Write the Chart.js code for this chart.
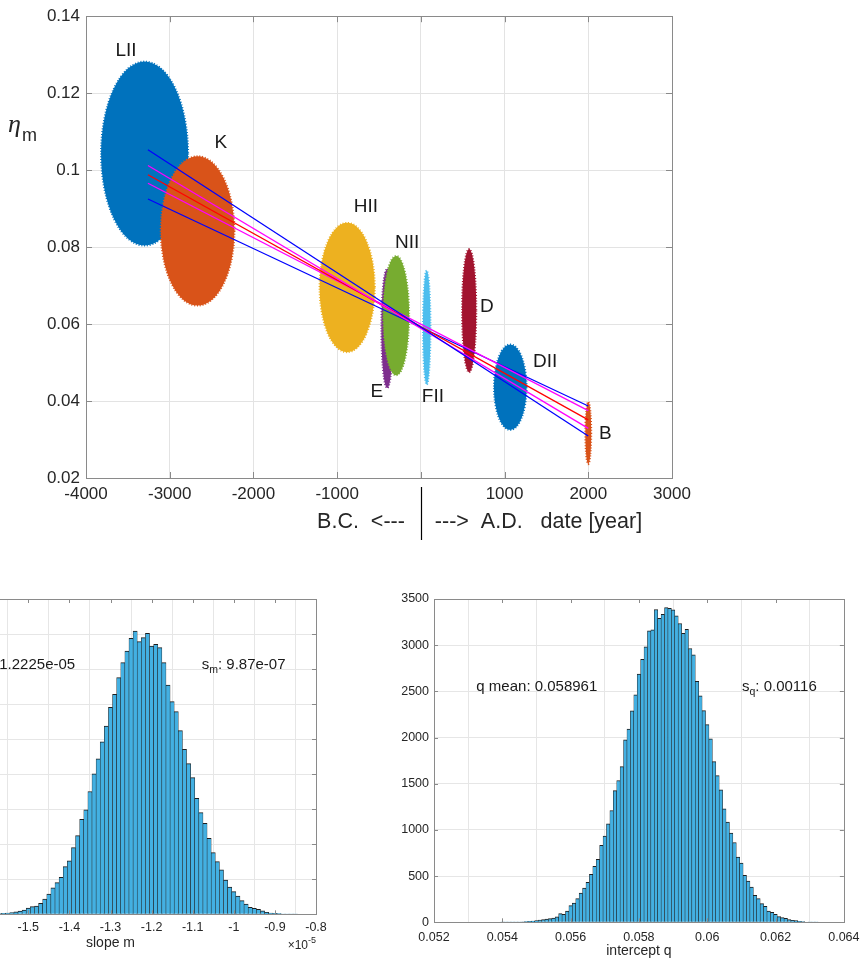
<!DOCTYPE html>
<html>
<head>
<meta charset="utf-8">
<script src="https://cdn.jsdelivr.net/npm/chart.js@4.4.1/dist/chart.umd.min.js"></script>
<style>
  html, body { margin: 0; padding: 0; background: #fff; width: 867px; height: 961px; overflow: hidden; position: relative; }
  canvas { position: absolute; }
  #top { left: 0; top: 0; }
  #histM { left: -160px; top: 560px; }
  #histQ { left: 360px; top: 560px; }
</style>
</head>
<body>
<canvas id="top" width="867" height="550"></canvas>
<canvas id="histM" width="500" height="400"></canvas>
<canvas id="histQ" width="507" height="400"></canvas>
<script>
// --- top plot: sample groups (centre and spread of each cloud) ---
const groupNames = ["LII", "K", "HII", "E", "NII", "FII", "D", "DII", "B"];
const groupDate = [-3300, -2667, -880, -402, -295, 70, 577, 1068, 2000];
const groupEta = [0.1043, 0.0842, 0.0695, 0.0589, 0.0622, 0.0591, 0.0635, 0.0436, 0.0317];
const groupDateSpread = [520, 440, 330, 70, 155, 45, 85, 195, 35];
const groupEtaSpread = [0.0239, 0.0194, 0.0168, 0.0155, 0.0155, 0.0148, 0.0160, 0.0111, 0.0081];
const labelDate = [-3522, -2390, -657, -526, -163, 144, 789, 1486, 2203];
const labelEta = [0.1309, 0.1070, 0.0906, 0.0424, 0.0812, 0.0411, 0.0644, 0.0502, 0.0315];
const groupColors = ["#0072BD", "#D95319", "#EDB120", "#7E2F8E", "#77AC30", "#4DBEEE", "#A2142F", "#0072BD", "#D95319"];

// regression lines (value at first and last date)
const fitDates = [-3260, 2000];
const fitSteep2 = [0.1053, 0.0309];
const fitSteep1 = [0.1012, 0.0329];
const fitMean = [0.0988, 0.0351];
const fitFlat1 = [0.0966, 0.0375];
const fitFlat2 = [0.0925, 0.0387];

const dateTicks = [-4000, -3000, -2000, -1000, 0, 1000, 2000, 3000];

// --- histogram of slope m (x in units of 1e-5) ---
const slopeBins = [-1.60, -1.59, -1.58, -1.57, -1.56, -1.55, -1.54, -1.53, -1.52, -1.51,
  -1.50, -1.49, -1.48, -1.47, -1.46, -1.45, -1.44, -1.43, -1.42, -1.41,
  -1.40, -1.39, -1.38, -1.37, -1.36, -1.35, -1.34, -1.33, -1.32, -1.31,
  -1.30, -1.29, -1.28, -1.27, -1.26, -1.25, -1.24, -1.23, -1.22, -1.21,
  -1.20, -1.19, -1.18, -1.17, -1.16, -1.15, -1.14, -1.13, -1.12, -1.11,
  -1.10, -1.09, -1.08, -1.07, -1.06, -1.05, -1.04, -1.03, -1.02, -1.01,
  -1.00, -0.99, -0.98, -0.97, -0.96, -0.95, -0.94, -0.93, -0.92, -0.91,
  -0.90, -0.89, -0.88, -0.87, -0.86, -0.85];
const slopeCounts = [3, 4, 6, 9, 13, 19, 26, 35, 45, 60,
  88, 110, 119, 157, 219, 290, 376, 452, 528, 680,
  762, 952, 1123, 1357, 1490, 1752, 2004, 2218, 2460, 2688,
  2954, 3140, 3378, 3592, 3758, 3939, 4043, 3891, 3948, 4010,
  3829, 3853, 3806, 3592, 3273, 3035, 2892, 2621, 2355, 2150,
  1950, 1655, 1450, 1300, 1085, 880, 752, 633, 490, 390,
  323, 261, 195, 147, 100, 86, 71, 48, 29, 19,
  14, 10, 5, 3, 2, 1];

// --- histogram of intercept q ---
const interceptBins = [0.0540, 0.0541, 0.0542, 0.0543, 0.0544, 0.0545, 0.0546, 0.0547, 0.0548, 0.0549,
  0.0550, 0.0551, 0.0552, 0.0553, 0.0554, 0.0555, 0.0556, 0.0557, 0.0558, 0.0559,
  0.0560, 0.0561, 0.0562, 0.0563, 0.0564, 0.0565, 0.0566, 0.0567, 0.0568, 0.0569,
  0.0570, 0.0571, 0.0572, 0.0573, 0.0574, 0.0575, 0.0576, 0.0577, 0.0578, 0.0579,
  0.0580, 0.0581, 0.0582, 0.0583, 0.0584, 0.0585, 0.0586, 0.0587, 0.0588, 0.0589,
  0.0590, 0.0591, 0.0592, 0.0593, 0.0594, 0.0595, 0.0596, 0.0597, 0.0598, 0.0599,
  0.0600, 0.0601, 0.0602, 0.0603, 0.0604, 0.0605, 0.0606, 0.0607, 0.0608, 0.0609,
  0.0610, 0.0611, 0.0612, 0.0613, 0.0614, 0.0615, 0.0616, 0.0617, 0.0618, 0.0619,
  0.0620, 0.0621, 0.0622, 0.0623, 0.0624, 0.0625, 0.0626, 0.0627, 0.0628, 0.0629,
  0.0630, 0.0631, 0.0632];
const interceptCounts = [1, 1, 2, 2, 3, 4, 6, 8, 11, 14,
  18, 25, 29, 36, 40, 47, 58, 94, 86, 122,
  180, 209, 256, 317, 371, 432, 519, 605, 681, 832,
  933, 1066, 1210, 1426, 1535, 1686, 1976, 2092, 2290, 2463,
  2687, 2846, 2982, 3155, 3166, 3386, 3292, 3335, 3407, 3400,
  3382, 3317, 3235, 3127, 3173, 2964, 2896, 2608, 2453, 2291,
  2140, 1985, 1740, 1588, 1434, 1228, 1084, 965, 864, 706,
  641, 508, 447, 382, 292, 256, 202, 173, 122, 108,
  86, 61, 50, 43, 29, 22, 18, 11, 7, 5,
  3, 2, 1];

Chart.defaults.font.family = '"Liberation Sans", Arial, Helvetica, sans-serif';
Chart.defaults.color = '#262626';

const SANS = '"Liberation Sans", Arial, Helvetica, sans-serif';

// box around the axes with inward ticks on all four sides
const frame = {
  id: 'frame',
  afterDraw(chart, args, opts) {
    const { ctx, chartArea: a, scales } = chart;
    const L = opts.tick || 5;
    ctx.save();
    ctx.strokeStyle = '#8a8a8a';
    ctx.lineWidth = 1;
    ctx.beginPath();
    scales.x.ticks.forEach(t => {
      const p = Math.round(scales.x.getPixelForValue(t.value)) + 0.5;
      ctx.moveTo(p, a.bottom); ctx.lineTo(p, a.bottom - L);
      ctx.moveTo(p, a.top); ctx.lineTo(p, a.top + L);
    });
    scales.y.ticks.forEach(t => {
      const p = Math.round(scales.y.getPixelForValue(t.value)) + 0.5;
      ctx.moveTo(a.left, p); ctx.lineTo(a.left + L, p);
      ctx.moveTo(a.right, p); ctx.lineTo(a.right - L, p);
    });
    ctx.stroke();
    ctx.strokeRect(Math.round(a.left) + 0.5, Math.round(a.top) + 0.5,
      Math.round(a.right) - Math.round(a.left), Math.round(a.bottom) - Math.round(a.top));
    ctx.restore();
  }
};

// sample clouds drawn as filled ellipses through the scales
const clouds = {
  id: 'clouds',
  beforeDatasetsDraw(chart) {
    const { ctx, chartArea: a, scales: { x, y } } = chart;
    ctx.save();
    ctx.beginPath();
    ctx.rect(a.left, a.top, a.width, a.height);
    ctx.clip();
    groupNames.forEach((n, i) => {
      const cx = x.getPixelForValue(groupDate[i]);
      const cy = y.getPixelForValue(groupEta[i]);
      const rx = Math.abs(x.getPixelForValue(groupDate[i] + groupDateSpread[i]) - cx);
      const ry = Math.abs(y.getPixelForValue(groupEta[i] + groupEtaSpread[i]) - cy);
      ctx.fillStyle = groupColors[i];
      ctx.strokeStyle = groupColors[i];
      ctx.beginPath();
      ctx.ellipse(cx, cy, rx, ry, 0, 0, Math.PI * 2);
      ctx.fill();
      ctx.setLineDash([1, 1.8]);
      ctx.lineWidth = 2;
      ctx.stroke();
      ctx.setLineDash([]);
    });
    ctx.restore();
  }
};

const topNotes = {
  id: 'topNotes',
  afterDraw(chart) {
    const { ctx, chartArea: a, scales: { x, y } } = chart;
    ctx.save();
    ctx.fillStyle = '#1a1a1a';
    ctx.textBaseline = 'middle';
    ctx.textAlign = 'center';
    ctx.font = '19px ' + SANS;
    groupNames.forEach((n, i) => {
      ctx.fillText(n, x.getPixelForValue(labelDate[i]), y.getPixelForValue(labelEta[i]));
    });

    // y label: eta_m
    ctx.textBaseline = 'alphabetic';
    ctx.textAlign = 'left';
    ctx.fillStyle = '#262626';
    ctx.font = 'italic 26px "Liberation Serif", "DejaVu Serif", serif';
    ctx.fillText('\u03b7', a.left - 78, a.top + 116);
    ctx.font = '18px ' + SANS;
    ctx.fillText('m', a.left - 64, a.top + 125);

    // x label split around year 0
    const x0 = x.getPixelForValue(0);
    ctx.strokeStyle = '#000';
    ctx.lineWidth = 1.2;
    ctx.beginPath();
    ctx.moveTo(Math.round(x0) + 0.5, a.bottom + 9);
    ctx.lineTo(Math.round(x0) + 0.5, a.bottom + 62);
    ctx.stroke();
    ctx.font = '21.5px ' + SANS;
    ctx.textBaseline = 'middle';
    ctx.textAlign = 'right';
    ctx.fillText('B.C.  <---', x0 - 16, a.bottom + 44);
    ctx.textAlign = 'left';
    ctx.fillText('--->  A.D.   date [year]', x0 + 14, a.bottom + 44);
    ctx.restore();
  }
};

function fitLine(vals, color) {
  return {
    data: fitDates.map((d, i) => ({ x: d, y: vals[i] })),
    showLine: true, borderColor: color, borderWidth: 1.3, pointRadius: 0, fill: false
  };
}

new Chart(document.getElementById('top'), {
  type: 'scatter',
  data: {
    datasets: [
      fitLine(fitSteep2, '#0000FF'),
      fitLine(fitSteep1, '#FF00FF'),
      fitLine(fitMean, '#FF0000'),
      fitLine(fitFlat1, '#FF00FF'),
      fitLine(fitFlat2, '#0000FF')
    ]
  },
  options: {
    responsive: false,
    animation: false,
    layout: { padding: { left: 0, top: 14, right: 195, bottom: 0 } },
    plugins: { legend: { display: false }, tooltip: { enabled: false }, frame: { tick: 6 } },
    scales: {
      x: {
        type: 'linear', min: dateTicks[0], max: dateTicks[dateTicks.length - 1],
        afterBuildTicks: s => { s.ticks = dateTicks.map(v => ({ value: v })); },
        ticks: { font: { size: 17 }, padding: 6, maxRotation: 0, autoSkip: false,
          callback: v => (v === 0 ? '' : String(v)) },
        grid: { color: '#e3e3e3', drawTicks: false },
        border: { display: false },
        afterFit: s => { s.height = 72; }
      },
      y: {
        min: 0.02, max: 0.14,
        ticks: { stepSize: 0.02, font: { size: 17 }, padding: 6,
          callback: v => String(+v.toFixed(2)) },
        grid: { color: '#e3e3e3', drawTicks: false },
        border: { display: false },
        afterFit: s => { s.width = 86; }
      }
    }
  },
  plugins: [clouds, frame, topNotes]
});

function histOptions(cfg) {
  return {
    responsive: false,
    animation: false,
    layout: { padding: { left: 0, top: 39, right: cfg.right, bottom: 0 } },
    plugins: { legend: { display: false }, tooltip: { enabled: false }, frame: { tick: 4 } },
    scales: {
      x: {
        type: 'linear', min: cfg.xmin, max: cfg.xmax, offset: false,
        ticks: { stepSize: cfg.xstep, font: { size: 12.5 }, padding: cfg.xpad, maxRotation: 0, autoSkip: false,
          callback: v => String(+v.toFixed(cfg.dec)) },
        grid: { color: '#e6e6e6', drawTicks: false },
        border: { display: false },
        afterFit: s => { s.height = cfg.xh; }
      },
      y: {
        min: 0, max: cfg.ymax,
        ticks: { stepSize: 500, font: { size: 12.5 }, padding: 5, callback: v => String(v) },
        grid: { color: '#e6e6e6', drawTicks: false },
        border: { display: false },
        afterFit: s => { s.width = cfg.yw; }
      }
    }
  };
}

function histDataset(bins, counts) {
  return {
    data: bins.map((b, i) => ({ x: b, y: counts[i] })),
    backgroundColor: '#43B0E2',
    borderColor: '#1e1e1e',
    borderWidth: { top: 1, left: 0.55, right: 0.55, bottom: 0 },
    borderSkipped: 'start',
    barPercentage: 1,
    categoryPercentage: 1
  };
}

function subText(ctx, x, y, base, sub, rest, size) {
  ctx.textAlign = 'left';
  ctx.font = size + 'px ' + SANS;
  ctx.fillText(base, x, y);
  let w = ctx.measureText(base).width;
  ctx.font = (size * 0.7) + 'px ' + SANS;
  ctx.fillText(sub, x + w, y + size * 0.35);
  w += ctx.measureText(sub).width;
  ctx.font = size + 'px ' + SANS;
  ctx.fillText(rest, x + w, y);
}

const slopeNotes = {
  id: 'slopeNotes',
  afterDraw(chart) {
    const { ctx, chartArea: a, scales: { x, y } } = chart;
    ctx.save();
    ctx.fillStyle = '#1a1a1a';
    ctx.textBaseline = 'middle';
    ctx.font = '15px ' + SANS;
    ctx.textAlign = 'right';
    ctx.fillText('m mean: -1.2225e-05', x.getPixelForValue(-1.386), y.getPixelForValue(3557));
    subText(ctx, x.getPixelForValue(-1.078), y.getPixelForValue(3557), 's', 'm', ': 9.87e-07', 15);
    ctx.fillStyle = '#262626';
    ctx.textAlign = 'center';
    ctx.font = '14px ' + SANS;
    ctx.fillText('slope m', (a.left + a.right) / 2, a.bottom + 28.4);
    ctx.textAlign = 'right';
    ctx.font = '9px ' + SANS;
    ctx.fillText('-5', a.right, a.bottom + 26);
    const w = ctx.measureText('-5').width;
    ctx.font = '12px ' + SANS;
    ctx.fillText('\u00d710', a.right - w, a.bottom + 31);
    ctx.restore();
  }
};

const interceptNotes = {
  id: 'interceptNotes',
  afterDraw(chart) {
    const { ctx, chartArea: a, scales: { x, y } } = chart;
    ctx.save();
    ctx.fillStyle = '#1a1a1a';
    ctx.textBaseline = 'middle';
    ctx.font = '15px ' + SANS;
    ctx.textAlign = 'left';
    ctx.fillText('q mean: 0.058961', x.getPixelForValue(0.05324), y.getPixelForValue(2550));
    subText(ctx, x.getPixelForValue(0.061017), y.getPixelForValue(2550), 's', 'q', ': 0.00116', 15);
    ctx.fillStyle = '#262626';
    ctx.textAlign = 'center';
    ctx.font = '14px ' + SANS;
    ctx.fillText('intercept q', (a.left + a.right) / 2, a.bottom + 28.4);
    ctx.restore();
  }
};

new Chart(document.getElementById('histM'), {
  type: 'bar',
  data: { datasets: [histDataset(slopeBins, slopeCounts)] },
  options: histOptions({ right: 24, xmin: -1.8, xmax: -0.8, xstep: 0.1, dec: 1, xpad: 6, xh: 45.7, ymax: 4500, yw: 65 }),
  plugins: [frame, slopeNotes]
});

new Chart(document.getElementById('histQ'), {
  type: 'bar',
  data: { datasets: [histDataset(interceptBins, interceptCounts)] },
  options: histOptions({ right: 21, xmin: 0.052, xmax: 0.064, xstep: 0.002, dec: 3, xpad: 7.5, xh: 37.7, ymax: 3500, yw: 74 }),
  plugins: [frame, interceptNotes]
});
</script>
</body>
</html>
